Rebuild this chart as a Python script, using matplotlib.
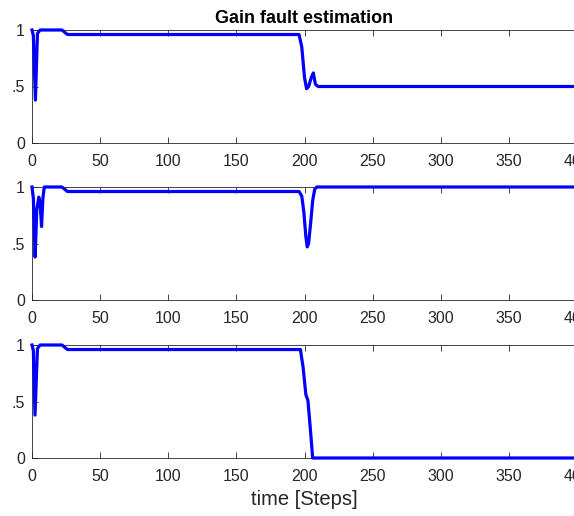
import matplotlib
matplotlib.use("Agg")
import matplotlib.pyplot as plt

# (step, estimated gain) breakpoints for each actuator
t1 = [0, 1, 2.5, 4, 6, 22, 24, 26, 196, 198, 200, 201.5, 203, 205, 206.5, 208, 210, 400]
g1 = [1.0, 0.95, 0.38, 0.97, 1.0, 1.0, 0.98, 0.96, 0.96, 0.85, 0.58, 0.48, 0.5, 0.58, 0.62, 0.52, 0.5, 0.5]

t2 = [0, 1, 2.3, 3.5, 5, 6, 7, 8, 9, 22, 24, 26, 196, 198, 199.5, 201, 202, 203, 204.5, 206, 207.5, 209, 400]
g2 = [1.0, 0.9, 0.38, 0.8, 0.91, 0.85, 0.65, 0.9, 1.0, 1.0, 0.98, 0.96, 0.96, 0.92, 0.78, 0.56, 0.47, 0.5, 0.68, 0.88, 0.98, 1.0, 1.0]

t3 = [0, 1, 2.2, 4, 6, 22, 24, 26, 197, 199, 201, 202.5, 204, 206, 400]
g3 = [1.0, 0.95, 0.38, 0.97, 1.0, 1.0, 0.98, 0.96, 0.96, 0.8, 0.56, 0.51, 0.3, 0.0, 0.0]

series = [(t1, g1), (t2, g2), (t3, g3)]
xticks = [0, 50, 100, 150, 200, 250, 300, 350, 400]
yticks = [0, 0.5, 1]
# the reference is cropped on the left, so only ".5" of "0.5" shows
ytick_labels = ["0", ".5", "1"]

plt.rcParams["font.family"] = ["Liberation Sans", "DejaVu Sans"]

fig = plt.figure(figsize=(5.74, 5.16), dpi=100)
W, H = 574.0, 516.0
left, width = 32 / W, 545 / W
tops = [30, 187, 345]
height = 113 / H

axes = []
for (t, g), top in zip(series, tops):
    ax = fig.add_axes([left, 1 - (top + 113) / H, width, height])
    ax.plot(t, g, color="#0000ff", linewidth=2.3, clip_on=False, zorder=3)
    ax.set_xlim(0, 400)
    ax.set_ylim(0, 1)
    ax.set_xticks(xticks)
    ax.set_yticks(yticks)
    ax.set_yticklabels(ytick_labels)
    # right edge is cropped off in the reference, so no right ticks
    ax.tick_params(direction="in", top=True, right=False, length=4,
                   width=0.6, color="#262626", labelsize=11.5,
                   labelcolor="#262626")
    ax.tick_params(axis="x", pad=8)
    ax.tick_params(axis="y", pad=5)
    for s in ax.spines.values():
        s.set_color("#262626")
        s.set_linewidth(0.6)
    axes.append(ax)

axes[0].set_title("Gain fault estimation", fontsize=13, fontweight="bold", pad=5)
axes[-1].set_xlabel("time [Steps]", fontsize=14.5, labelpad=4, color="#262626")

fig.savefig("out.png", dpi=100)
